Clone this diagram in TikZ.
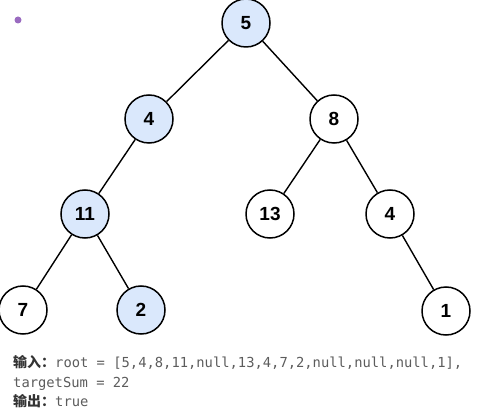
\documentclass[tikz,border=0pt]{standalone}
\usepackage{fontspec}
\usepackage{xcolor}
\usepackage{tikz}
\usetikzlibrary{positioning}
\newfontfamily\nodefont{Liberation Sans}
\newfontfamily\codefont{DejaVu Sans Mono}
\newfontfamily\cjkfont{Noto Sans CJK SC}
\definecolor{nodeblue}{HTML}{DAE8FC}
\definecolor{dotpurple}{HTML}{9A6BC0}
\definecolor{codegray}{HTML}{5C5C5C}
\definecolor{labeldark}{HTML}{333333}
\tikzset{
  tnode/.style={circle, draw=black, line width=1.5pt, fill=white, minimum size=48pt, inner sep=0pt, font=\nodefont\bfseries\fontsize{19}{19}\selectfont},
  pathnode/.style={tnode, fill=nodeblue},
  edge/.style={line width=1.4pt},
  codeline/.style={anchor=base west, inner sep=0pt, text=codegray, font=\codefont\fontsize{13.8}{14}\selectfont},
}
\newcommand{\cnlabel}[1]{{\cjkfont\bfseries\fontsize{14}{14}\selectfont\color{labeldark}#1}}

\begin{document}
\begin{tikzpicture}[x=1pt, y=-1pt]
  \useasboundingbox (0,0) rectangle (478,411);
  \fill[dotpurple] (18,20) circle (3.5);
  % tree
  \node[pathnode] (n5) at (246,23) {5};
  \node[pathnode] (n4) at (149,119) {4};
  \node[tnode] (n8) at (334,119) {8};
  \node[pathnode] (n11) at (85,214) {11};
  \node[tnode] (n13) at (270,214) {13};
  \node[tnode] (n4r) at (390,214) {4};
  \node[tnode] (n7) at (23,310) {7};
  \node[pathnode] (n2) at (141,310) {2};
  \node[tnode] (n1) at (446,311) {1};
  \draw[edge] (n5) -- (n4);
  \draw[edge] (n5) -- (n8);
  \draw[edge] (n4) -- (n11);
  \draw[edge] (n8) -- (n13);
  \draw[edge] (n8) -- (n4r);
  \draw[edge] (n11) -- (n7);
  \draw[edge] (n11) -- (n2);
  \draw[edge] (n4r) -- (n1);
  % example text
  \node[codeline] (in) at (13,367) {\cnlabel{输入：}root = [5,4,8,11,null,13,4,7,2,null,null,null,1],};
  \node[codeline] (sum) at (13,387) {targetSum = 22};
  \node[codeline] (out) at (13,406) {\cnlabel{输出：}true};
\end{tikzpicture}
\end{document}
